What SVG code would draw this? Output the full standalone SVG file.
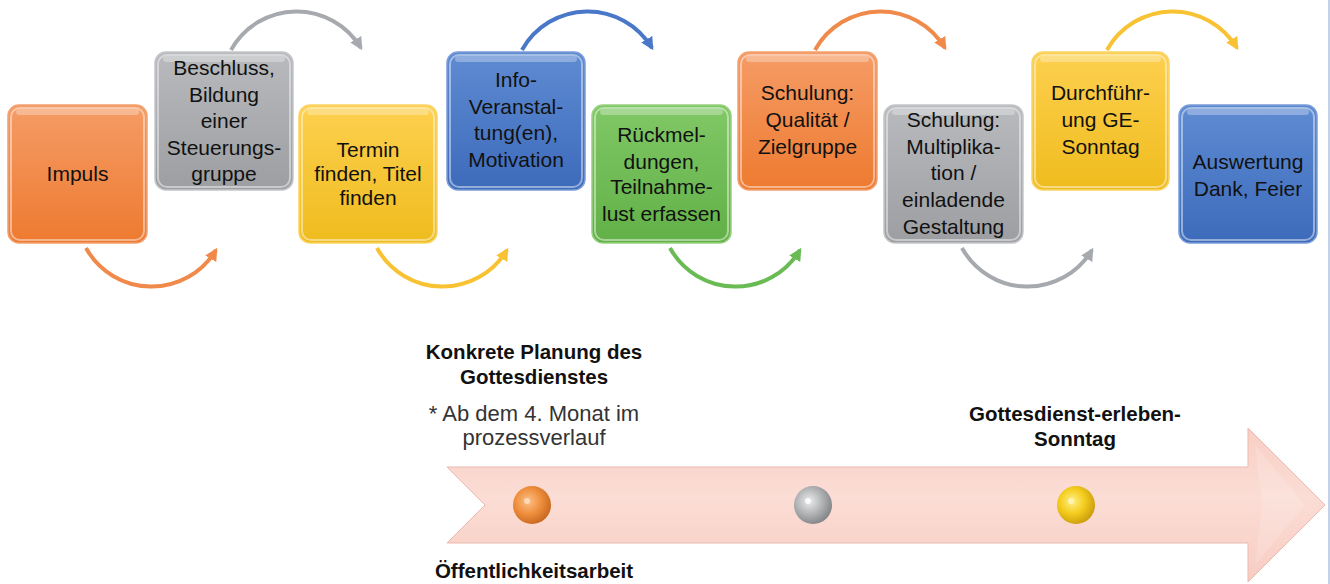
<svg xmlns="http://www.w3.org/2000/svg" width="1330" height="584" viewBox="0 0 1330 584">
<defs>
<style>
.box{stroke-width:1.5}
.gloss{fill:#ffffff;opacity:0.3}
.edge{fill:none;stroke:#ffffff;stroke-opacity:0.45;stroke-width:2}
.t{font-family:"Liberation Sans",Arial,sans-serif;font-size:21px;fill:#111111;text-anchor:middle}
.b{font-family:"Liberation Sans",Arial,sans-serif;font-size:20.5px;font-weight:bold;fill:#111111;text-anchor:middle}
.n{font-family:"Liberation Sans",Arial,sans-serif;font-size:22px;fill:#333333;text-anchor:middle}
.arc{fill:none;stroke-width:4;stroke-linecap:butt}
</style>
<linearGradient id="gO" x1="0" y1="0" x2="0" y2="1"><stop offset="0" stop-color="#F59C66"/><stop offset="1" stop-color="#EE7A30"/></linearGradient>
<linearGradient id="gG" x1="0" y1="0" x2="0" y2="1"><stop offset="0" stop-color="#B8BABD"/><stop offset="1" stop-color="#9C9EA2"/></linearGradient>
<linearGradient id="gY" x1="0" y1="0" x2="0" y2="1"><stop offset="0" stop-color="#FDD04F"/><stop offset="1" stop-color="#EFBC1E"/></linearGradient>
<linearGradient id="gB" x1="0" y1="0" x2="0" y2="1"><stop offset="0" stop-color="#5F8BD2"/><stop offset="1" stop-color="#3D6BBB"/></linearGradient>
<linearGradient id="gGr" x1="0" y1="0" x2="0" y2="1"><stop offset="0" stop-color="#80C866"/><stop offset="1" stop-color="#62B047"/></linearGradient>
<linearGradient id="band" x1="0" y1="0" x2="0" y2="1"><stop offset="0" stop-color="#F7CEC4"/><stop offset="0.45" stop-color="#FBDDD5"/><stop offset="1" stop-color="#F7CCC2"/></linearGradient>
<radialGradient id="bO" cx="0.4" cy="0.4" r="0.65"><stop offset="0" stop-color="#FBC08A"/><stop offset="0.5" stop-color="#F0913F"/><stop offset="1" stop-color="#C6651E"/></radialGradient>
<radialGradient id="bG" cx="0.4" cy="0.4" r="0.65"><stop offset="0" stop-color="#EDEDED"/><stop offset="0.5" stop-color="#B4B6B8"/><stop offset="1" stop-color="#7F8184"/></radialGradient>
<radialGradient id="bY" cx="0.4" cy="0.4" r="0.65"><stop offset="0" stop-color="#FFF08A"/><stop offset="0.5" stop-color="#F5CD1E"/><stop offset="1" stop-color="#C89A0C"/></radialGradient>
<marker id="mO" viewBox="0 0 10 10" refX="8" refY="5" markerWidth="3.2" markerHeight="3.2" orient="auto"><path d="M0,0 L10,5 L0,10 Z" fill="#F08A4B"/></marker>
<marker id="mG" viewBox="0 0 10 10" refX="8" refY="5" markerWidth="3.2" markerHeight="3.2" orient="auto"><path d="M0,0 L10,5 L0,10 Z" fill="#A6A9AD"/></marker>
<marker id="mY" viewBox="0 0 10 10" refX="8" refY="5" markerWidth="3.2" markerHeight="3.2" orient="auto"><path d="M0,0 L10,5 L0,10 Z" fill="#F8C232"/></marker>
<marker id="mB" viewBox="0 0 10 10" refX="8" refY="5" markerWidth="3.2" markerHeight="3.2" orient="auto"><path d="M0,0 L10,5 L0,10 Z" fill="#4A78C8"/></marker>
<marker id="mGr" viewBox="0 0 10 10" refX="8" refY="5" markerWidth="3.2" markerHeight="3.2" orient="auto"><path d="M0,0 L10,5 L0,10 Z" fill="#6BBB55"/></marker>
</defs>
<rect x="0" y="0" width="1330" height="584" fill="#ffffff"/>
<line x1="1329" y1="0" x2="1329" y2="584" stroke="#AFC3E0" stroke-width="1.5"/>

<g id="connectors">
<path class="arc" stroke="#F08A4B" marker-end="url(#mO)" d="M86,248 A75,75 0 0 0 216,250"/>
<path class="arc" stroke="#F8C232" marker-end="url(#mY)" d="M377,248 A75,75 0 0 0 507,250"/>
<path class="arc" stroke="#6BBB55" marker-end="url(#mGr)" d="M670,248 A75,75 0 0 0 800,250"/>
<path class="arc" stroke="#A6A9AD" marker-end="url(#mG)" d="M962,248 A75,75 0 0 0 1092,250"/>
<path class="arc" stroke="#A6A9AD" marker-end="url(#mG)" d="M231,50 A75,75 0 0 1 361,48"/>
<path class="arc" stroke="#4A78C8" marker-end="url(#mB)" d="M522,50 A75,75 0 0 1 652,48"/>
<path class="arc" stroke="#F08A4B" marker-end="url(#mO)" d="M815,50 A75,75 0 0 1 945,48"/>
<path class="arc" stroke="#F8C232" marker-end="url(#mY)" d="M1107,50 A75,75 0 0 1 1237,48"/>
</g>

<g id="n1">
<rect class="box" x="8" y="105" width="139" height="138" rx="11" fill="url(#gO)" stroke="#F3A170"/>
<rect class="gloss" x="16" y="109" width="123" height="6" rx="3"/>
<rect class="edge" x="11" y="108" width="133" height="132" rx="9"/>
<text class="t" x="77.5" y="181">Impuls</text>
</g>
<g id="n2">
<rect class="box" x="155" y="52" width="138" height="138" rx="11" fill="url(#gG)" stroke="#C4C6C9"/>
<rect class="gloss" x="163" y="56" width="122" height="6" rx="3"/>
<rect class="edge" x="158" y="55" width="132" height="132" rx="9"/>
<text class="t" x="224" y="75">Beschluss,</text>
<text class="t" x="224" y="101.5">Bildung</text>
<text class="t" x="224" y="128">einer</text>
<text class="t" x="224" y="154.5">Steuerungs-</text>
<text class="t" x="224" y="181">gruppe</text>
</g>
<g id="n3">
<rect class="box" x="299" y="105" width="138" height="138" rx="11" fill="url(#gY)" stroke="#FAD467"/>
<rect class="gloss" x="307" y="109" width="122" height="6" rx="3"/>
<rect class="edge" x="302" y="108" width="132" height="132" rx="9"/>
<text class="t" x="368" y="157">Termin</text>
<text class="t" x="368" y="181">finden, Titel</text>
<text class="t" x="368" y="205">finden</text>
</g>
<g id="n4">
<rect class="box" x="447" y="52" width="138" height="138" rx="11" fill="url(#gB)" stroke="#7A9CD8"/>
<rect class="gloss" x="455" y="56" width="122" height="6" rx="3"/>
<rect class="edge" x="450" y="55" width="132" height="132" rx="9"/>
<text class="t" x="516" y="87">Info-</text>
<text class="t" x="516" y="114">Veranstal-</text>
<text class="t" x="516" y="140">tung(en),</text>
<text class="t" x="516" y="167">Motivation</text>
</g>
<g id="n5">
<rect class="box" x="592" y="105" width="139" height="138" rx="11" fill="url(#gGr)" stroke="#96D17F"/>
<rect class="gloss" x="600" y="109" width="123" height="6" rx="3"/>
<rect class="edge" x="595" y="108" width="133" height="132" rx="9"/>
<text class="t" x="661.5" y="142">Rückmel-</text>
<text class="t" x="661.5" y="168.5">dungen,</text>
<text class="t" x="661.5" y="194">Teilnahme-</text>
<text class="t" x="661.5" y="220.5">lust erfassen</text>
</g>
<g id="n6">
<rect class="box" x="738" y="52" width="139" height="138" rx="11" fill="url(#gO)" stroke="#F3A170"/>
<rect class="gloss" x="746" y="56" width="123" height="6" rx="3"/>
<rect class="edge" x="741" y="55" width="133" height="132" rx="9"/>
<text class="t" x="807.5" y="100">Schulung:</text>
<text class="t" x="807.5" y="127">Qualität /</text>
<text class="t" x="807.5" y="153.5">Zielgruppe</text>
</g>
<g id="n7">
<rect class="box" x="884" y="105" width="139" height="138" rx="11" fill="url(#gG)" stroke="#C4C6C9"/>
<rect class="gloss" x="892" y="109" width="123" height="6" rx="3"/>
<rect class="edge" x="887" y="108" width="133" height="132" rx="9"/>
<text class="t" x="953.5" y="127">Schulung:</text>
<text class="t" x="953.5" y="154">Multiplika-</text>
<text class="t" x="953.5" y="180">tion /</text>
<text class="t" x="953.5" y="207">einladende</text>
<text class="t" x="953.5" y="233.5">Gestaltung</text>
</g>
<g id="n8">
<rect class="box" x="1032" y="52" width="137" height="138" rx="11" fill="url(#gY)" stroke="#FAD467"/>
<rect class="gloss" x="1040" y="56" width="121" height="6" rx="3"/>
<rect class="edge" x="1035" y="55" width="131" height="132" rx="9"/>
<text class="t" x="1100.5" y="100">Durchführ-</text>
<text class="t" x="1100.5" y="127">ung GE-</text>
<text class="t" x="1100.5" y="153.5">Sonntag</text>
</g>
<g id="n9">
<rect class="box" x="1179" y="105" width="138" height="138" rx="11" fill="url(#gB)" stroke="#7A9CD8"/>
<rect class="gloss" x="1187" y="109" width="122" height="6" rx="3"/>
<rect class="edge" x="1182" y="108" width="132" height="132" rx="9"/>
<text class="t" x="1248" y="169">Auswertung</text>
<text class="t" x="1248" y="195.5">Dank, Feier</text>
</g>

<g id="timeline">
<polygon points="447,467 1248,467 1248,428 1325,505 1248,582 1248,543 447,543 485,505" fill="url(#band)" stroke="#EBB9AE" stroke-width="1"/>
<polygon points="1255,445 1305,505 1255,565 1262,505" fill="#ffffff" opacity="0.15"/>
<circle cx="532" cy="505" r="19" fill="url(#bO)"/>
<circle cx="527" cy="501" r="3" fill="#FFE2C4" opacity="0.8"/>
<circle cx="813" cy="505" r="19" fill="url(#bG)"/>
<circle cx="808" cy="501" r="3" fill="#FFFFFF" opacity="0.8"/>
<circle cx="1076" cy="505" r="19" fill="url(#bY)"/>
<circle cx="1071" cy="501" r="3" fill="#FFF6C0" opacity="0.8"/>
</g>

<g id="labels">
<text class="b" x="534" y="359">Konkrete Planung des</text>
<text class="b" x="534" y="384">Gottesdienstes</text>
<text class="n" x="534" y="421">* Ab dem 4. Monat im</text>
<text class="n" x="534" y="445">prozessverlauf</text>
<text class="b" x="534" y="578">Öffentlichkeitsarbeit</text>
<text class="b" x="1075" y="421">Gottesdienst-erleben-</text>
<text class="b" x="1075" y="446">Sonntag</text>
</g>
</svg>
